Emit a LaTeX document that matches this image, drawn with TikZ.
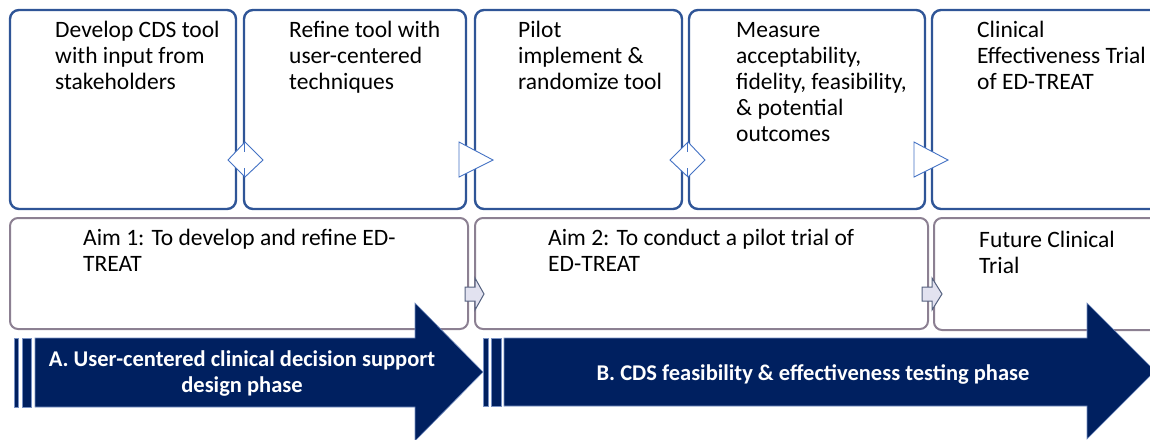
\documentclass[tikz,border=0pt]{standalone}
\usepackage{fontspec}
\setmainfont{Carlito}
\definecolor{stepblue}{RGB}{47,85,151}
\definecolor{aimgray}{RGB}{140,128,146}
\definecolor{linkblue}{RGB}{68,114,196}
\definecolor{phasenavy}{RGB}{0,32,96}
\definecolor{phaseedge}{RGB}{120,145,195}
\definecolor{chevfill}{RGB}{226,226,240}
\definecolor{chevedge}{RGB}{85,98,128}
\newcommand{\lines}[1]{\begin{tabular}[t]{@{}l@{}}#1\end{tabular}}
\tikzset{
  stepbox/.style={draw=stepblue, line width=2.4pt, rounded corners=9pt, fill=white},
  aimbox/.style={draw=aimgray, line width=2pt, rounded corners=8pt, fill=white},
  boxtext/.style={anchor=base west, inner sep=0pt,
    font=\fontsize{23.5}{26}\selectfont},
  linkshape/.style={draw=linkblue, line width=0.9pt, fill=white, line join=miter},
  phase/.style={fill=phasenavy, draw=phaseedge, line width=0.6pt},
  phasetext/.style={text=white, align=center, inner sep=0pt,
    font=\bfseries\fontsize{22.5}{26}\selectfont},
  chevron/.style={fill=chevfill, draw=chevedge, line width=1pt, line join=miter},
}
\begin{document}
\begin{tikzpicture}[x=1pt, y=-1pt]
\useasboundingbox (0,0) rectangle (1150,439);

% step boxes
\draw[stepbox] (10,10) rectangle (236,209);
\draw[stepbox] (244,10) rectangle (466,209);
\draw[stepbox] (475,10) rectangle (682,209);
\draw[stepbox] (689,10) rectangle (925,209);
\draw[stepbox] (932,10) rectangle (1165,209);

\node[boxtext] (s1) at (55,37) {\lines{Develop CDS tool\\with input from\\stakeholders}};
\node[boxtext] (s2) at (289,37) {\lines{Refine tool with\\user-centered\\techniques}};
\node[boxtext] (s3) at (518,37) {\lines{Pilot\\implement \&\\randomize tool}};
\node[boxtext] (s4) at (736,37) {\lines{Measure\\acceptability,\\fidelity, feasibility,\\\& potential\\outcomes}};
\node[boxtext] (s5) at (977,37) {\lines{Clinical\\Effectiveness Trial\\of ED-TREAT}};

% links between steps
\draw[linkshape] (228,160) -- (245,142) -- (263,160) -- (245,177) -- cycle;
\draw[linkblue, line width=0.8pt] (244.5,142) -- (244.5,152) (244.5,168) -- (244.5,177);
\draw[linkshape] (459,142) -- (493,160) -- (459,177) -- cycle;
\draw[linkshape] (670,160) -- (688,142) -- (705,160) -- (688,177) -- cycle;
\draw[linkblue, line width=0.8pt] (687.5,142) -- (687.5,152) (687.5,168) -- (687.5,177);
\draw[linkshape] (914,142) -- (948,160) -- (914,177) -- cycle;

% aim boxes
\draw[aimbox] (10,218) rectangle (468,329);
\draw[aimbox] (475,218) rectangle (928,329);
\draw[aimbox] (934,218) rectangle (1165,330);

\node[boxtext] (a1) at (83,245) {\lines{Aim 1: To develop and refine ED-\\TREAT}};
\node[boxtext] (a2) at (548,245) {\lines{Aim 2: To conduct a pilot trial of\\ED-TREAT}};
\node[boxtext] (a3) at (979,247) {\lines{Future Clinical\\Trial}};

% phase arrows
\draw[phase] (14,338) rectangle (18,407);
\draw[phase] (22,338) rectangle (31,407);
\draw[phase] (35,338) -- (415,338) -- (415,303) -- (483,372) -- (415,441)
  -- (415,407) -- (35,407) -- cycle;
\node[phasetext] (pa) at (242,374) {A. User-centered clinical decision support\\design phase};

\draw[phase] (483,338) rectangle (488,406);
\draw[phase] (491,338) rectangle (501,406);
\draw[phase] (504,338) -- (1087,338) -- (1087,303) -- (1155,371) -- (1087,439)
  -- (1087,406) -- (504,406) -- cycle;
\node[phasetext, anchor=base] (pb) at (813,380) {B. CDS feasibility \& effectiveness testing phase};

% chevrons between aims
\draw[chevron] (465,287) -- (475,287) -- (475,278) -- (484,294) -- (475,310)
  -- (475,301) -- (465,301) -- cycle;
\draw[chevron] (922,287) -- (932,287) -- (932,278) -- (942,294) -- (932,310)
  -- (932,301) -- (922,301) -- cycle;
\end{tikzpicture}
\end{document}
